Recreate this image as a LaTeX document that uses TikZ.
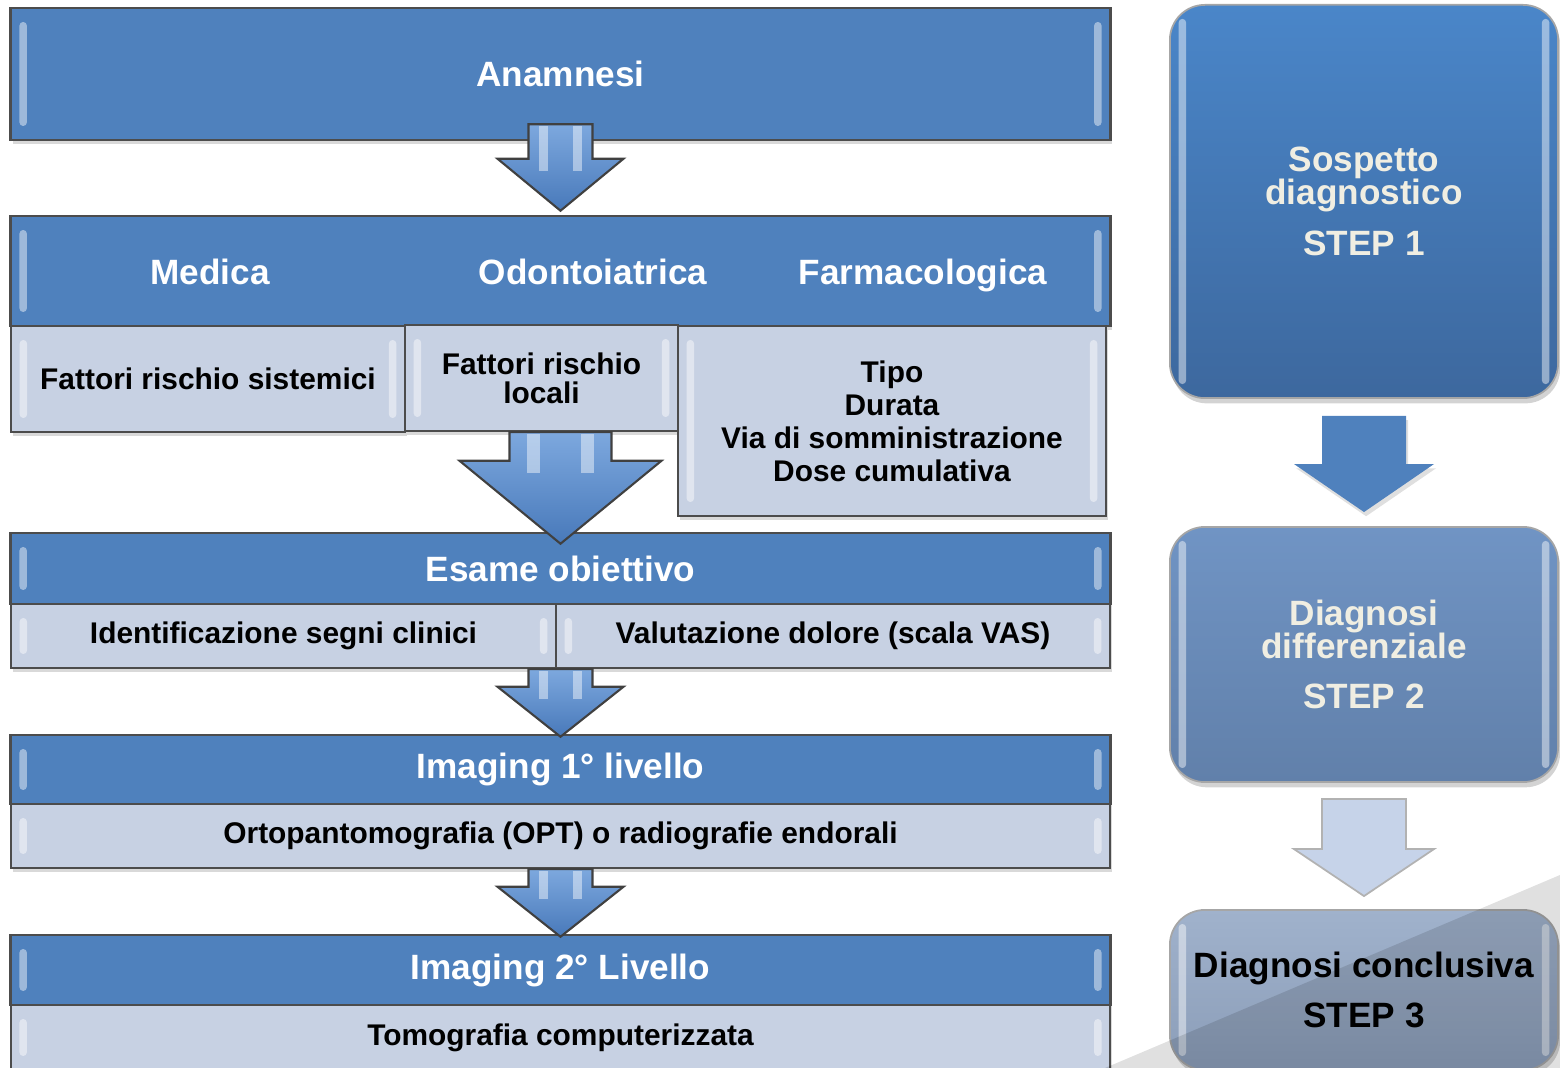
\documentclass[tikz,border=0pt]{standalone}
\usepackage{fontspec}
\setmainfont{Liberation Sans}
\usetikzlibrary{calc, shadows}

\definecolor{hdblue}{RGB}{79,129,189}
\definecolor{subfill}{RGB}{199,209,227}
\definecolor{arrtop}{RGB}{125,168,222}
\definecolor{arrbot}{RGB}{72,121,186}
\definecolor{sonetop}{RGB}{74,134,201}
\definecolor{sonebot}{RGB}{61,104,158}
\definecolor{stwotop}{RGB}{112,148,196}
\definecolor{stwobot}{RGB}{97,128,170}
\definecolor{sthrtop}{RGB}{160,178,204}
\definecolor{sthrbot}{RGB}{139,157,184}
\definecolor{cream}{RGB}{240,238,226}
\definecolor{lightarr}{RGB}{198,211,233}

\newcommand{\blockarrow}[6]{%
	\path[#1] ($(#2)+(-#4,0)$) -- ($(#2)+(#4,0)$) -- ($(#3)+(#4,-#6)$) -- ($(#3)+(#5,-#6)$) -- (#3) -- ($(#3)+(-#5,-#6)$) -- ($(#3)+(-#4,-#6)$) -- cycle;}
\newcommand{\arrowstripes}[4]{%
	\fill[stripe] ($(#1)+({-0.66*#3},2)$) rectangle ($(#2)+({-0.4*#3},{-#4+12})$);
	\fill[stripe] ($(#1)+({0.4*#3},2)$) rectangle ($(#2)+({0.66*#3},{-#4+12})$);}

\begin{document}
\begin{tikzpicture}[x=0.01cm,y=-0.01cm]
	\tikzstyle{bevel}=[path picture={
		\fill[white, opacity=.45, rounded corners=1pt] ([xshift=2.5pt,yshift=-4pt]path picture bounding box.north west) rectangle ([xshift=4.6pt,yshift=4pt]path picture bounding box.south west);
		\fill[white, opacity=.45, rounded corners=1pt] ([xshift=-2.5pt,yshift=-4pt]path picture bounding box.north east) rectangle ([xshift=-4.6pt,yshift=4pt]path picture bounding box.south east);}]
	\tikzstyle{hdbox}=[draw=black!70, line width=0.7pt, fill=hdblue, minimum width=10.99cm, inner sep=0pt, bevel, drop shadow={opacity=.3, shadow xshift=0.6pt, shadow yshift=-1.2pt}, text=white, font=\bfseries\fontsize{10}{12}\selectfont]
	\tikzstyle{headtxt}=[text=white, anchor=base, font=\bfseries\fontsize{10}{12}\selectfont]
	\tikzstyle{subbox}=[draw=black!70, line width=0.6pt, fill=subfill, inner sep=0pt, align=center, bevel, drop shadow={opacity=.3, shadow xshift=0.6pt, shadow yshift=-1.2pt}, font=\bfseries\fontsize{8.5}{9.4}\selectfont]
	\tikzstyle{stepbox}=[draw=black!35, line width=0.5pt, rounded corners=0.35cm, minimum width=3.88cm, inner sep=0pt, align=center, bevel, drop shadow={opacity=.35, shadow xshift=0.6pt, shadow yshift=-1.5pt}, text=cream, font=\bfseries\fontsize{10}{9.4}\selectfont]
	\tikzstyle{blkarrow}=[draw=black!75, line width=0.6pt, top color=arrtop, bottom color=arrbot]
	\tikzstyle{stripe}=[white, opacity=.45]
	\tikzstyle{rarrow}=[fill=hdblue, drop shadow={opacity=.25, shadow xshift=0.6pt, shadow yshift=-1.2pt}]
	\tikzstyle{rarrowlight}=[fill=lightarr, draw=black!30, line width=0.5pt]

	\useasboundingbox (0,0) rectangle (1560,1068);
	\clip (0,0) rectangle (1560,1068);

	\node (anam) [hdbox, minimum height=1.32cm] at (560.5,74) {Anamnesi};
	\node (tipi) [hdbox, minimum height=1.10cm] at (560.5,271) {};
	\node (lmed) [headtxt] at (210,285) {Medica};
	\node (lodo) [headtxt] at (593,285) {Odontoiatrica};
	\node (lfar) [headtxt] at (923,285) {Farmacologica};
	\node (med) [subbox, minimum width=3.94cm, minimum height=1.06cm] at (208,379) {Fattori rischio sistemici};
	\node (odo) [subbox, minimum width=2.73cm, minimum height=1.06cm] at (541.5,378) {Fattori rischio\\[-1.2pt]locali};
	\node (far) [subbox, minimum width=4.28cm, minimum height=1.90cm] at (892,421) {Tipo\\Durata\\Via di somministrazione\\Dose cumulativa};

	\node (esame) [hdbox, minimum height=0.71cm] at (560.5,568.5) {Esame obiettivo};
	\node (ident) [subbox, minimum width=5.45cm, minimum height=0.64cm] at (283.5,636) {Identificazione segni clinici};
	\node (valut) [subbox, minimum width=5.54cm, minimum height=0.64cm] at (833,636) {Valutazione dolore (scala VAS)};

	\node (img1) [hdbox, minimum height=0.69cm] at (560.5,769.5) {Imaging 1° livello};
	\node (opt) [subbox, minimum width=10.99cm, minimum height=0.64cm] at (560.5,836) {Ortopantomografia (OPT) o radiografie endorali};

	\node (img2) [hdbox, minimum height=0.70cm] at (560.5,970) {Imaging 2° Livello};
	\node (tc) [subbox, minimum width=10.99cm, minimum height=0.65cm] at (560.5,1037.5) {Tomografia computerizzata};

	\node (step1) [stepbox, top color=sonetop, bottom color=sonebot, minimum height=3.93cm] at (1364,201.5) {Sospetto\\diagnostico\\[5pt]STEP 1};
	\node (step2) [stepbox, top color=stwotop, bottom color=stwobot, minimum height=2.55cm] at (1364,654.5) {Diagnosi\\differenziale\\[5pt]STEP 2};
	\node (step3) [stepbox, top color=sthrtop, bottom color=sthrbot, minimum height=1.60cm, text=black] at (1364,990) {Diagnosi conclusiva\\[5pt]STEP 3};

	\coordinate (a1s) at ($(anam.south)+(0,-17)$);
	\coordinate (a1e) at ($(tipi.north)+(0,-4)$);
	\blockarrow{blkarrow}{a1s}{a1e}{32}{63}{52}
	\arrowstripes{a1s}{a1e}{32}{52}
	\coordinate (a2s) at (esame.north |- odo.south);
	\coordinate (a2e) at ($(esame.north)+(0,12)$);
	\blockarrow{blkarrow}{a2s}{a2e}{51}{101}{83}
	\arrowstripes{a2s}{a2e}{51}{83}
	\coordinate (a3s) at (esame.north |- ident.south);
	\coordinate (a3e) at ($(img1.north)+(0,3)$);
	\blockarrow{blkarrow}{a3s}{a3e}{32}{63}{50}
	\arrowstripes{a3s}{a3e}{32}{50}
	\coordinate (a4s) at (opt.south);
	\coordinate (a4e) at ($(img2.north)+(0,3)$);
	\blockarrow{blkarrow}{a4s}{a4e}{32}{63}{50}
	\arrowstripes{a4s}{a4e}{32}{50}

	\coordinate (r1s) at ($(step1.south)+(0,17)$);
	\coordinate (r1e) at ($(step2.north)+(0,-14)$);
	\blockarrow{rarrow}{r1s}{r1e}{42}{70}{48}
	\coordinate (r2s) at ($(step2.south)+(0,16)$);
	\coordinate (r2e) at ($(step3.north)+(0,-13)$);
	\blockarrow{rarrowlight}{r2s}{r2e}{42}{70}{47}

	\fill[black, opacity=.12] (1105,1068) -- (1560,875) -- (1560,1068) -- cycle;
\end{tikzpicture}
\end{document}
